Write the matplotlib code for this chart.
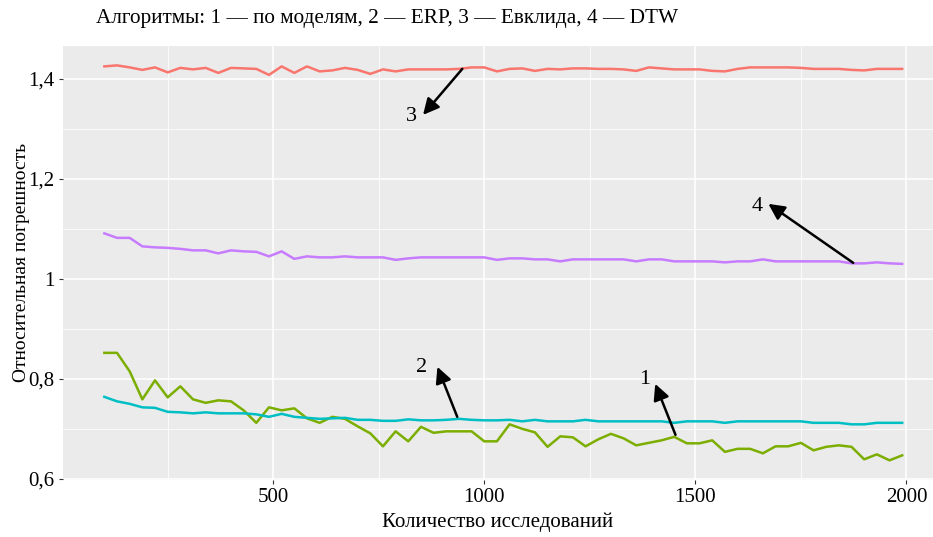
"""
Relative error vs number of studies for four algorithms.
"""

import numpy as np
import matplotlib
matplotlib.use("Agg")
import matplotlib.pyplot as plt

# number of studies (x axis)
n_studies = list(range(100, 2000, 30))

# 1 - model based (green)
err_models = [0.852, 0.852, 0.815, 0.759, 0.797, 0.763, 0.785, 0.759, 0.752, 0.757,
              0.755, 0.737, 0.712, 0.743, 0.737, 0.741, 0.721, 0.712, 0.724, 0.720,
              0.705, 0.691, 0.665, 0.695, 0.675, 0.704, 0.692, 0.695, 0.695, 0.695,
              0.675, 0.675, 0.709, 0.700, 0.693, 0.664, 0.685, 0.683, 0.665, 0.679,
              0.690, 0.681, 0.667, 0.672, 0.677, 0.684, 0.671, 0.671, 0.677, 0.654,
              0.660, 0.660, 0.651, 0.665, 0.665, 0.672, 0.657, 0.664, 0.667, 0.664,
              0.639, 0.649, 0.637, 0.647]

# 2 - ERP (cyan)
err_erp = [0.764, 0.755, 0.750, 0.743, 0.742, 0.734, 0.733, 0.731, 0.733, 0.731,
           0.731, 0.731, 0.729, 0.724, 0.730, 0.724, 0.722, 0.720, 0.721, 0.722,
           0.718, 0.718, 0.716, 0.716, 0.719, 0.717, 0.717, 0.718, 0.720, 0.718,
           0.717, 0.717, 0.718, 0.715, 0.718, 0.715, 0.715, 0.715, 0.718, 0.715,
           0.715, 0.715, 0.715, 0.715, 0.715, 0.712, 0.715, 0.715, 0.715, 0.712,
           0.715, 0.715, 0.715, 0.715, 0.715, 0.715, 0.712, 0.712, 0.712, 0.709,
           0.709, 0.712, 0.712, 0.712]

# 3 - Euclid (red)
err_euclid = [1.425, 1.427, 1.423, 1.418, 1.423, 1.413, 1.422, 1.419, 1.422, 1.412,
              1.422, 1.421, 1.420, 1.408, 1.425, 1.412, 1.425, 1.415, 1.417, 1.422,
              1.418, 1.410, 1.419, 1.415, 1.419, 1.419, 1.419, 1.419, 1.420, 1.423,
              1.423, 1.415, 1.420, 1.421, 1.416, 1.420, 1.419, 1.421, 1.421, 1.420,
              1.420, 1.419, 1.416, 1.423, 1.421, 1.419, 1.419, 1.419, 1.416, 1.415,
              1.420, 1.423, 1.423, 1.423, 1.423, 1.422, 1.420, 1.420, 1.420, 1.418,
              1.417, 1.420, 1.420, 1.420]

# 4 - DTW (purple)
err_dtw = [1.091, 1.082, 1.082, 1.065, 1.063, 1.062, 1.060, 1.057, 1.057, 1.051,
           1.057, 1.055, 1.054, 1.045, 1.055, 1.040, 1.045, 1.043, 1.043, 1.045,
           1.043, 1.043, 1.043, 1.038, 1.041, 1.043, 1.043, 1.043, 1.043, 1.043,
           1.043, 1.038, 1.041, 1.041, 1.039, 1.039, 1.035, 1.039, 1.039, 1.039,
           1.039, 1.039, 1.035, 1.039, 1.039, 1.035, 1.035, 1.035, 1.035, 1.033,
           1.035, 1.035, 1.039, 1.035, 1.035, 1.035, 1.035, 1.035, 1.035, 1.031,
           1.031, 1.033, 1.031, 1.030]

x_ticks = [500, 1000, 1500, 2000]
y_ticks = [0.6, 0.8, 1.0, 1.2, 1.4]
y_tick_labels = ["0,6", "0,8", "1", "1,2", "1,4"]

# label, text position, arrow tail (on the line), arrow head
labels = ["3", "4", "2", "1"]
label_pos = [(827, 1.324), (1647, 1.144), (851, 0.822), (1379, 0.798)]
arrow_tail = [(948, 1.420), (1874, 1.032), (936, 0.724), (1453, 0.688)]
arrow_head = [(855, 1.328), (1673, 1.150), (889, 0.824), (1405, 0.790)]

plt.rcParams["font.family"] = ["Liberation Serif", "DejaVu Serif"]

fig = plt.figure(figsize=(9.33, 5.37), dpi=100)
ax = fig.add_axes([0.0675, 0.106, 0.9325, 0.809])
ax.set_facecolor("#EBEBEB")
for s in ax.spines.values():
    s.set_visible(False)

ax.plot(n_studies, err_euclid, color="#F8766D", lw=1.8)
ax.plot(n_studies, err_models, color="#7CAE00", lw=1.8)
ax.plot(n_studies, err_erp, color="#00BFC4", lw=1.8)
ax.plot(n_studies, err_dtw, color="#C77CFF", lw=1.8)

ax.set_xlim(2, 2063)
ax.set_ylim(0.5975, 1.4665)
ax.set_xticks(x_ticks)
ax.set_xticks([250, 750, 1250, 1750], minor=True)
ax.set_yticks(y_ticks)
ax.set_yticklabels(y_tick_labels)
ax.set_yticks([0.7, 0.9, 1.1, 1.3], minor=True)
ax.grid(which="major", color="white", lw=1.1)
ax.grid(which="minor", color="white", lw=0.55)
ax.set_axisbelow(True)
ax.tick_params(which="major", length=3, width=0.8, color="#333333",
               labelsize=15, labelcolor="black", pad=3)
ax.tick_params(which="minor", length=0)

ax.set_xlabel("Количество исследований", fontsize=15, labelpad=4)
ax.set_ylabel("Относительная погрешность", fontsize=14, labelpad=-1)

for lab, tp, tail, head in zip(labels, label_pos, arrow_tail, arrow_head):
    ax.annotate("", xy=head, xytext=tail,
                arrowprops=dict(arrowstyle="-|>", color="black", lw=1.8,
                                mutation_scale=24, shrinkA=0, shrinkB=0))
    ax.text(tp[0], tp[1], lab, fontsize=16, ha="center", va="center")

fig.text(0.103, 0.966, "Алгоритмы: 1 — по моделям, 2 — ERP, 3 — Евклида, 4 — DTW",
         fontsize=15.3, ha="left", va="center")

fig.savefig("out.png", dpi=100)
